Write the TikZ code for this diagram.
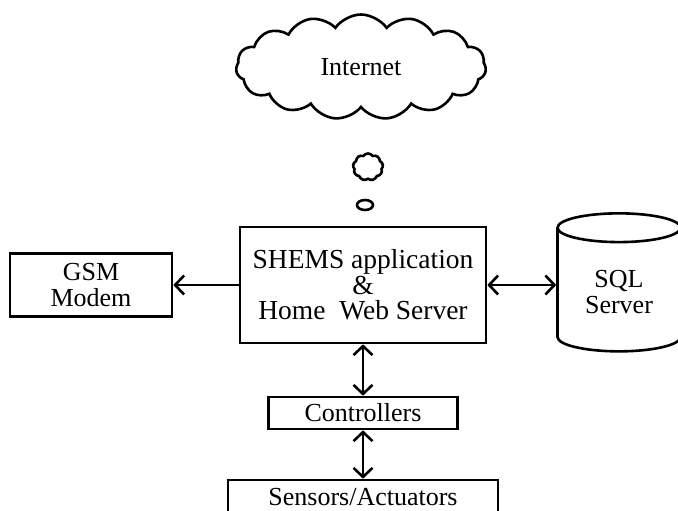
\documentclass[tikz,border=0pt]{standalone}
\usepackage{fontspec}
\setmainfont{Liberation Serif}
\usetikzlibrary{arrows.meta}
\usetikzlibrary{shapes.geometric,shapes.symbols}

\begin{document}
\begin{tikzpicture}[x=1pt,y=-1pt,line width=2.6pt,
			>={Straight Barb[length=9pt,width=19pt]},
			box/.style={rectangle,draw,align=center,inner sep=2pt,
				font=\fontsize{26}{25.5}\selectfont},
			puff/.style={cloud,draw,cloud puff arc=110,inner sep=0pt}]
			
			\fill[white] (0,0) rectangle (678,511);
			\useasboundingbox (0,0) rectangle (678,511);
			
			\node[box,minimum width=246pt,minimum height=116pt,
				font=\fontsize{27.5}{25.5}\selectfont] (app) at (363,285)
				{SHEMS application\\\&\\Home\ \ Web Server};
			\node[box,minimum width=162pt,minimum height=63pt] (gsm) [left of=app,node distance=272pt] {GSM\\Modem};
			\node[box,cylinder,shape border rotate=90,aspect=0.4,
				minimum width=123pt,minimum height=138pt,yshift=-7pt] (sql) [right of=app,node distance=256pt] {SQL\\Server};
			\node[box,minimum width=189pt,minimum height=32pt] (ctrl) [below of=app,node distance=128pt] {Controllers};
			\node[box,minimum width=270pt,minimum height=34pt] (sens) [below of=ctrl,node distance=84pt] {Sensors/Actuators};
			
			% thought bubbles up to the internet
			\node[draw,ellipse,minimum width=16pt,minimum height=10pt,inner sep=0pt] (dot) at (365,205) {};
			\node[puff,cloud puffs=9,minimum width=30pt,minimum height=27pt] (bubble) at (368,167) {};
			\node[puff,cloud puffs=15,aspect=2.4,minimum width=250pt,minimum height=105pt,
				font=\fontsize{26}{30}\selectfont] (net) at (361,67) {Internet};
			
			\draw[->] (app) -- (gsm);
			\draw[<->] (app.east) -- (app.east -| sql.west);
			\draw[<->] (app) -- (ctrl);
			\draw[<->] (ctrl) -- (sens);
		\end{tikzpicture}
\end{document}
